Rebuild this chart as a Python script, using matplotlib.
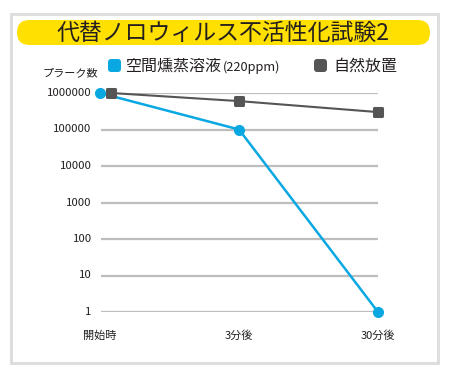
import numpy as np
import matplotlib.pyplot as plt
from matplotlib.patches import FancyBboxPatch, Rectangle
from matplotlib.markers import MarkerStyle

plt.rcParams['font.family'] = ['Noto Sans CJK JP', 'DejaVu Sans']

title = '代替ノロウィルス不活性化試験2'
categories = ['開始時', '3分後', '30分後']
ytick_values = [1, 10, 100, 1000, 10000, 100000, 1000000]
ytick_labels = ['1', '10', '100', '1000', '10000', '100000', '1000000']
ylabel = 'プラーク数'

series_names = ['空間燻蒸溶液', '自然放置']
series_note = '(220ppm)'
fumigation = [1000000, 100000, 1]
natural = [1000000, 600000, 300000]

blue = '#0aa8e2'
gray = '#555555'
grid_col = '#bdbdbd'
text_col = '#231f20'

fig = plt.figure(figsize=(4.5, 3.8), dpi=100)

# background layer in pixel coordinates
bg = fig.add_axes([0, 0, 1, 1])
bg.set_xlim(0, 450)
bg.set_ylim(380, 0)
bg.axis('off')
bg.add_patch(Rectangle((11, 14), 427, 349, fill=False, ec='#dedede', lw=2.2))
bg.add_patch(FancyBboxPatch((17, 20), 413, 25, boxstyle='round,pad=0,rounding_size=12.5',
                            fc='#ffe000', ec='none'))
bg.text(223, 33, title, ha='center', va='center', fontsize=16.5, color=text_col)

# legend
bg.add_patch(FancyBboxPatch((108, 59), 13, 13, boxstyle='round,pad=0,rounding_size=3',
                            fc=blue, ec='none'))
bg.text(125, 66, series_names[0], ha='left', va='center', fontsize=11.5, color=text_col)
bg.text(223, 67, series_note, ha='left', va='center', fontsize=9.2, color=text_col)
bg.add_patch(FancyBboxPatch((314, 59), 13, 13, boxstyle='round,pad=0,rounding_size=3',
                            fc=gray, ec='none'))
bg.text(333, 66, series_names[1], ha='left', va='center', fontsize=11.5, color=text_col)
bg.text(70, 73, ylabel, ha='center', va='center', fontsize=8, color=text_col)

# main plot
ax = fig.add_axes([100 / 450, (380 - 312) / 380, 278 / 450, 219 / 380])
ax.set_yscale('log')
ax.set_xlim(0, 2)
ax.set_ylim(1, 1000000)
ax.patch.set_alpha(0)
for s in ax.spines.values():
    s.set_visible(False)
ax.set_xticks([])
ax.set_yticks([])
ax.minorticks_off()
ax.hlines(ytick_values, 0.01, 2, color=grid_col, lw=1.6, zorder=1)
for v, lab in zip(ytick_values, ytick_labels):
    ax.text(-0.06, v, lab, ha='right', va='center', fontsize=8.2, color=text_col)

x = np.arange(len(categories))
for xi, lab in zip(x, categories):
    ax.text(xi, 0.22, lab, ha='center', va='center', fontsize=8, color=text_col)

ax.plot(x, fumigation, color=blue, lw=1.8, marker='o', ms=7, clip_on=False, zorder=3)
x_nat = x.astype(float)
x_nat[0] += 0.08
sq = MarkerStyle('s', joinstyle='round')
ax.plot(x_nat, natural, color=gray, lw=1.5, marker=sq, ms=6, mew=2.2, mec=gray,
        clip_on=False, zorder=4)

fig.savefig('out.png', dpi=100)
